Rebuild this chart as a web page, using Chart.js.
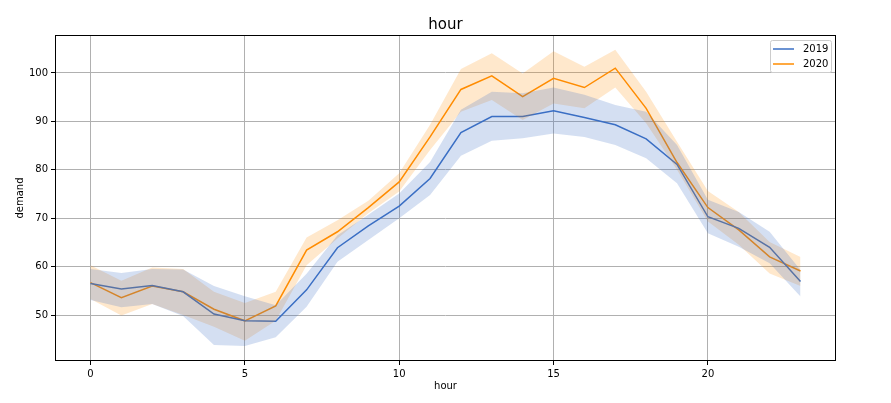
<!DOCTYPE html>
<html><head><meta charset="utf-8">
<script src="https://cdn.jsdelivr.net/npm/chart.js@4/dist/chart.umd.min.js"></script>
<style>html,body{margin:0;padding:0;background:#fff}canvas{display:block}</style>
</head><body>
<canvas id="c" width="891" height="403"></canvas>
<script>
const hours = [0,1,2,3,4,5,6,7,8,9,10,11,12,13,14,15,16,17,18,19,20,21,22,23];
const mean2019 = [56.5,55.4,56.1,54.8,50.2,48.8,48.7,55.2,63.9,68.4,72.5,78.2,87.7,91.0,91.0,92.2,90.8,89.3,86.4,81.1,70.3,67.9,64.0,56.9];
const upper2019 = [59.5,58.7,59.5,59.4,56.0,53.9,52.0,58.5,66.5,70.7,75.1,81.6,92.4,96.1,95.8,97.0,95.5,93.4,92.0,85.1,73.8,71.3,67.2,59.3];
const lower2019 = [53.1,51.6,52.3,49.8,43.8,43.6,45.4,51.7,61.0,65.5,70.0,74.8,82.9,86.0,86.5,87.5,86.8,85.1,82.4,77.2,66.9,64.1,60.7,53.8];
const mean2020 = [56.7,53.6,56.0,54.8,51.2,48.8,51.9,63.4,67.2,72.2,77.5,86.8,96.6,99.4,95.1,98.9,97.0,101.0,92.7,81.5,72.2,67.6,62.0,59.1];
const upper2020 = [60.3,57.1,59.8,59.5,54.8,52.5,54.8,66.0,69.6,73.6,79.3,89.3,100.8,104.1,99.9,104.5,101.3,104.8,96.1,85.8,75.6,71.3,65.1,62.0];
const lower2020 = [53.3,49.9,52.3,50.0,47.6,44.7,48.8,60.3,65.8,71.0,75.5,84.1,92.0,94.4,90.3,93.7,92.7,97.0,89.6,80.0,69.3,64.5,58.6,56.0];
const yTicks = [50,60,70,80,90,100];
const xTicks = [0,5,10,15,20];
const seriesLabels = ['2019','2020'];

const BLUE = '#3a6fc4';
const ORANGE = '#ff8c00';
const pts = arr => arr.map((v,i)=>({x:hours[i],y:v}));

const frame = {
  id:'frame',
  afterDraw(chart){
    const {ctx, chartArea:a} = chart;
    ctx.save();
    ctx.strokeStyle='#000'; ctx.lineWidth=1;
    ctx.strokeRect(Math.round(a.left)+0.5, Math.round(a.top)+0.5, Math.round(a.right-a.left)-1, Math.round(a.bottom-a.top)-1);
    ctx.fillStyle='#000';
    ctx.font='15px "DejaVu Sans"';
    ctx.textAlign='center'; ctx.textBaseline='alphabetic';
    ctx.fillText('hour',(a.left+a.right)/2, 29);
    ctx.font='10px "DejaVu Sans"';
    ctx.textBaseline='middle';
    ctx.fillText('hour',(a.left+a.right)/2, 386);
    ctx.save();
    ctx.translate(20,(a.top+a.bottom)/2);
    ctx.rotate(-Math.PI/2);
    ctx.fillText('demand',0,0);
    ctx.restore();
    const bx=a.right-66, by=a.top+5, bw=61, bh=32;
    ctx.fillStyle='rgba(255,255,255,0.8)';
    ctx.strokeStyle='#cccccc';
    ctx.beginPath();
    ctx.roundRect(bx+0.5,by+0.5,bw,bh,2);
    ctx.fill(); ctx.stroke();
    const cols=[BLUE,ORANGE];
    ctx.textAlign='left'; ctx.textBaseline='middle';
    for(let i=0;i<2;i++){
      const yy=by+9+i*15;
      ctx.strokeStyle=cols[i]; ctx.lineWidth=1.5;
      ctx.beginPath(); ctx.moveTo(bx+3,yy); ctx.lineTo(bx+24,yy); ctx.stroke();
      ctx.fillStyle='#000';
      ctx.fillText(seriesLabels[i], bx+33, yy+0.5);
    }
    ctx.restore();
  }
};

new Chart(document.getElementById('c'),{
  type:'line',
  data:{datasets:[
    {label:'lo2019',data:pts(lower2019),borderWidth:0,pointRadius:0,fill:false,borderColor:'rgba(0,0,0,0)'},
    {label:'hi2019',data:pts(upper2019),borderWidth:0,pointRadius:0,fill:'-1',borderColor:'rgba(0,0,0,0)',backgroundColor:'rgba(58,111,196,0.22)'},
    {label:'lo2020',data:pts(lower2020),borderWidth:0,pointRadius:0,fill:false,borderColor:'rgba(0,0,0,0)'},
    {label:'hi2020',data:pts(upper2020),borderWidth:0,pointRadius:0,fill:'-1',borderColor:'rgba(0,0,0,0)',backgroundColor:'rgba(255,140,0,0.2)'},
    {label:seriesLabels[0],data:pts(mean2019),borderColor:BLUE,borderWidth:1.5,pointRadius:0,fill:false},
    {label:seriesLabels[1],data:pts(mean2020),borderColor:ORANGE,borderWidth:1.5,pointRadius:0,fill:false}
  ]},
  options:{
    responsive:false, animation:false, devicePixelRatio:1,
    layout:{padding:{top:35,right:55,left:0,bottom:0}},
    plugins:{legend:{display:false},title:{display:false},tooltip:{enabled:false}},
    scales:{
      x:{type:'linear',min:-1.15,max:24.15,
        afterBuildTicks(s){s.ticks=xTicks.map(v=>({value:v}));},
        afterFit(s){s.height=42;},
        grid:{color:'#b0b0b0',tickColor:'#000',tickLength:4,lineWidth:1},
        border:{display:false},
        ticks:{color:'#000',font:{family:'DejaVu Sans',size:10},padding:3,maxRotation:0}
      },
      y:{type:'linear',min:40.5,max:107.85,
        afterBuildTicks(s){s.ticks=yTicks.map(v=>({value:v}));},
        afterFit(s){s.width=55;},
        grid:{color:'#b0b0b0',tickColor:'#000',tickLength:4,lineWidth:1},
        border:{display:false},
        ticks:{color:'#000',font:{family:'DejaVu Sans',size:10},padding:3}
      }
    }
  },
  plugins:[frame]
});
</script>
</body></html>
